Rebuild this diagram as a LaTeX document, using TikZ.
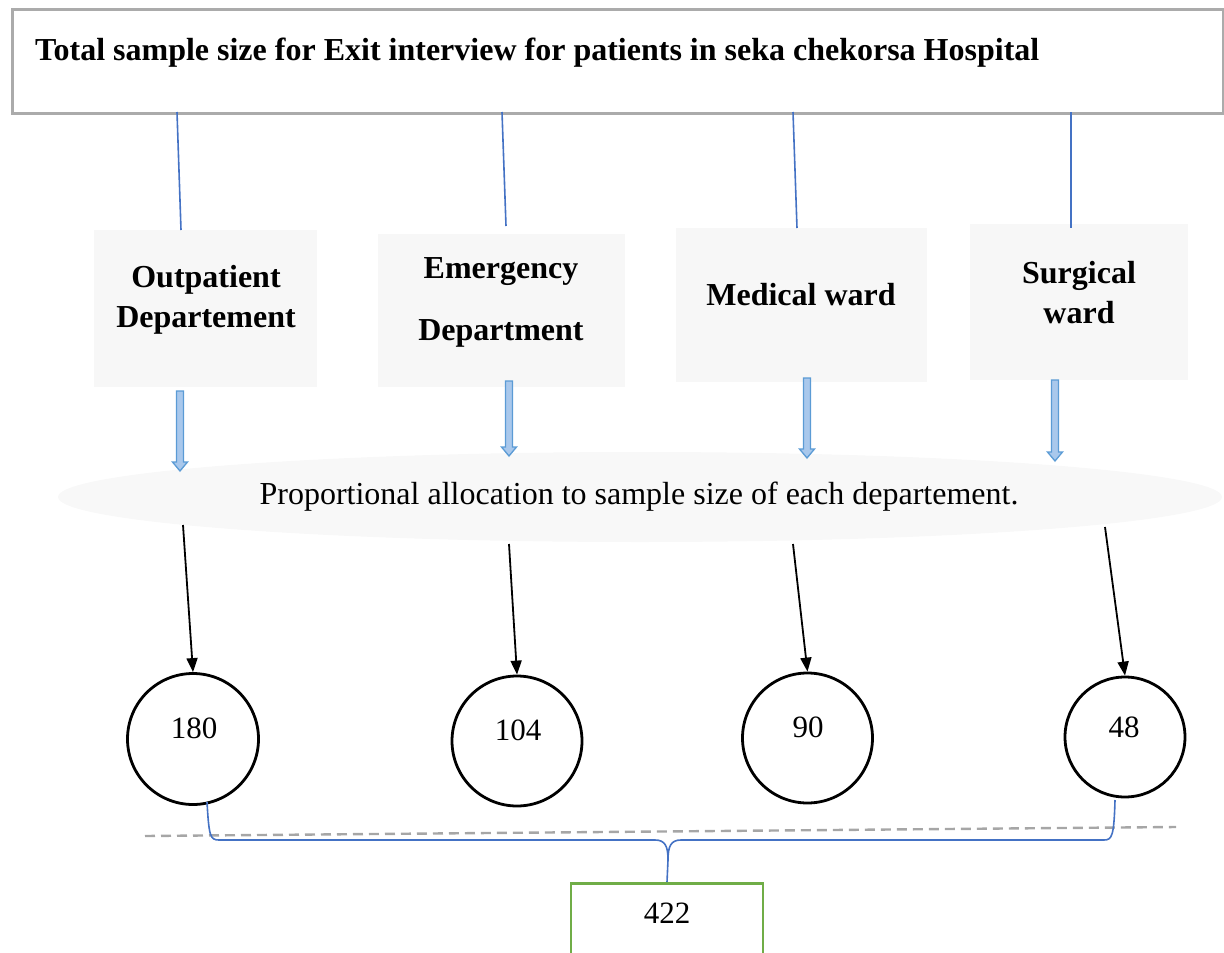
\documentclass[tikz,border=0pt]{standalone}
\usepackage{fontspec}
\setmainfont{Liberation Serif}
\usetikzlibrary{arrows.meta}
\definecolor{deptgray}{HTML}{F7F7F7}
\definecolor{ellgray}{HTML}{F8F8F8}
\definecolor{titlegray}{HTML}{ABABAB}
\definecolor{linkblue}{HTML}{4472C4}
\definecolor{arrfill}{HTML}{A9C8EC}
\definecolor{arrdraw}{HTML}{5B9BD5}
\definecolor{dashgray}{HTML}{A6A6A6}
\definecolor{boxgreen}{HTML}{70AD47}
\newcommand\blockarr[4]{% name, x, ytop, ybottom
  \draw[blockarrow] (#2-3.5,#3) -- (#2+3.5,#3) -- (#2+3.5,#4-9) -- (#2+7.5,#4-9) -- (#2,#4) -- (#2-7.5,#4-9) -- (#2-3.5,#4-9) -- cycle;
  \coordinate (#1) at (#2,#4);}
\begin{document}
\begin{tikzpicture}[x=1pt,y=-1pt,
  deptbox/.style={fill=deptgray, draw=none, inner sep=0pt},
  depttext/.style={font=\fontsize{32}{40}\selectfont\bfseries, align=center, inner sep=0pt},
  blockarrow/.style={fill=arrfill, draw=arrdraw, line width=1.3pt, line join=miter},
  link/.style={draw=linkblue, line width=1.6pt},
  flow/.style={draw=black, line width=1.8pt, -{Triangle[length=14pt,width=11pt]}},
  numcircle/.style={circle, draw=black, line width=2.8pt, inner sep=0pt},
  numtext/.style={font=\fontsize{31}{36}\selectfont, inner sep=0pt},
]
\useasboundingbox (0,0) rectangle (1224,953);

% title
\node[draw=titlegray, line width=2.8pt, minimum width=1211pt, minimum height=104pt, anchor=north west, inner sep=0pt] (title) at (11,8) {};
\node[font=\fontsize{32}{36}\selectfont\bfseries, anchor=base west, inner sep=0pt] (titletext) at (35,60) {Total sample size for Exit interview for patients in seka chekorsa Hospital};

% department boxes
\node[deptbox, minimum width=223pt, minimum height=157pt] (b1) at (205.5,308.5) {};
\node[deptbox, minimum width=247pt, minimum height=153pt] (b2) at (501.5,310.5) {};
\node[deptbox, minimum width=251pt, minimum height=154pt] (b3) at (801.5,305) {};
\node[deptbox, minimum width=218pt, minimum height=156pt] (b4) at (1079,302) {};

\node[depttext] (t1) at (206,300) {Outpatient\\Departement};
\node[depttext] (t2) at (501,302) {Emergency\\[22pt]Department};
\node[depttext] (t3) at (801,295) {Medical ward};
\node[depttext] (t4) at (1079,293) {Surgical\\ward};

% links from title
\coordinate (s1) at (177,112); \coordinate (e1) at (181,230);
\coordinate (s2) at (502,112); \coordinate (e2) at (506,226);
\coordinate (s3) at (793,112); \coordinate (e3) at (797,228);
\coordinate (s4) at (1071,112); \coordinate (e4) at (1071,228);
\draw[link] (s1) -- (e1);
\draw[link] (s2) -- (e2);
\draw[link] (s3) -- (e3);
\draw[link] (s4) -- (e4);

% ellipse
\fill[ellgray] (640,497) ellipse [x radius=582pt, y radius=45pt];
\node[font=\fontsize{32}{36}\selectfont, inner sep=0pt] (ell) at (639,497) {Proportional allocation to sample size of each departement.};

% block arrows
\blockarr{a1}{180}{391}{471}
\blockarr{a2}{509}{381}{456}
\blockarr{a3}{807}{378}{458}
\blockarr{a4}{1055}{380}{461}

% circles
\node[numcircle, minimum size=131pt] (c1) at (193,739) {};
\node[numcircle, minimum size=130pt] (c2) at (517,741) {};
\node[numcircle, minimum size=130pt] (c3) at (807.5,738) {};
\node[numcircle, minimum size=120pt] (c4) at (1125,737) {};
\node[numtext] (n1) at (194,728) {180};
\node[numtext] (n2) at (518,730) {104};
\node[numtext] (n3) at (808,727) {90};
\node[numtext] (n4) at (1124,727) {48};

% black arrows
\coordinate (f1) at (183,525);
\coordinate (f2) at (509,544);
\coordinate (f3) at (793,544);
\coordinate (f4) at (1105,527);
\draw[flow] (f1) -- (c1.north);
\draw[flow] (f2) -- (c2.north);
\draw[flow] (f3) -- (c3.north);
\draw[flow] (f4) -- (c4.north);

% dashed line
\coordinate (d1) at (145,836); \coordinate (d2) at (1176,827);
\draw[dashgray, line width=2.4pt, dash pattern=on 10pt off 6pt] (d1) -- (d2);

% total box
\node[draw=boxgreen, line width=2.8pt, minimum width=192pt, minimum height=100pt, anchor=north, inner sep=0pt] (total) at (667,882) {};
\node[numtext] (tt) at (667,913) {422};

% brace
\coordinate (bl) at (207,802);
\coordinate (br) at (1115,800);
\draw[link] (bl) .. controls (209,836) and (210,840) .. (219,840) -- (655,840) .. controls (665,840) and (668,846) .. (668,860) -- (total.north);
\draw[link] (668,860) .. controls (668,846) and (671,840) .. (681,840) -- (1104,840) .. controls (1112,840) and (1114,836) .. (br);
\end{tikzpicture}
\end{document}
